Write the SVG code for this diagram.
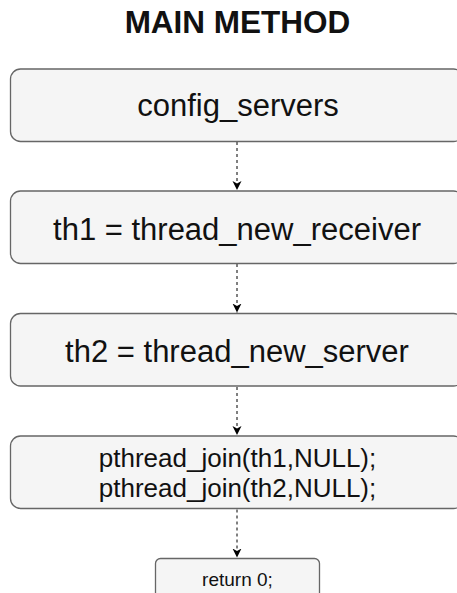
<svg xmlns="http://www.w3.org/2000/svg" width="457" height="593" viewBox="0 0 457 593">
<style>
.box{fill:#f5f5f5;stroke:#666666;stroke-width:1.3}
.t{font-family:"Liberation Sans",Arial,sans-serif;fill:#111111;text-anchor:middle}
.edge{stroke:#000000;stroke-width:1;stroke-dasharray:3 3;fill:none}
</style>
<defs>
<marker id="ah" markerWidth="12" markerHeight="12" refX="9" refY="5" orient="auto" markerUnits="userSpaceOnUse">
<path d="M0,0.5 L9,5 L0,9.5 L2.5,5 Z" fill="#000000"/>
</marker>
</defs>
<text class="t" x="237.5" y="32.5" font-size="31.5" font-weight="bold" fill="#000000">MAIN METHOD</text>
<g id="connectors">
<line class="edge" x1="237" y1="142" x2="237" y2="190" marker-end="url(#ah)"/>
<line class="edge" x1="237" y1="264" x2="237" y2="312.5" marker-end="url(#ah)"/>
<line class="edge" x1="237" y1="387" x2="237" y2="435" marker-end="url(#ah)"/>
<line class="edge" x1="237" y1="509.5" x2="237" y2="557.5" marker-end="url(#ah)"/>
</g>
<g id="config_servers">
<rect class="box" x="10.5" y="69" width="453" height="72.5" rx="10"/>
<text class="t" x="238" y="115.5" font-size="31">config_servers</text>
</g>
<g id="th1">
<rect class="box" x="10.5" y="191" width="453" height="72.5" rx="10"/>
<text class="t" x="237" y="240" font-size="31">th1 = thread_new_receiver</text>
</g>
<g id="th2">
<rect class="box" x="10.5" y="313.5" width="453" height="72.5" rx="10"/>
<text class="t" x="237" y="361.5" font-size="31">th2 = thread_new_server</text>
</g>
<g id="join">
<rect class="box" x="10.5" y="436" width="453" height="72.5" rx="10"/>
<text class="t" x="237.5" y="466.5" font-size="26">pthread_join(th1,NULL);</text>
<text class="t" x="237.5" y="497" font-size="26">pthread_join(th2,NULL);</text>
</g>
<g id="return">
<rect class="box" x="155.5" y="558.5" width="164" height="40" rx="5"/>
<text class="t" x="237.5" y="585.5" font-size="19">return 0;</text>
</g>
</svg>
